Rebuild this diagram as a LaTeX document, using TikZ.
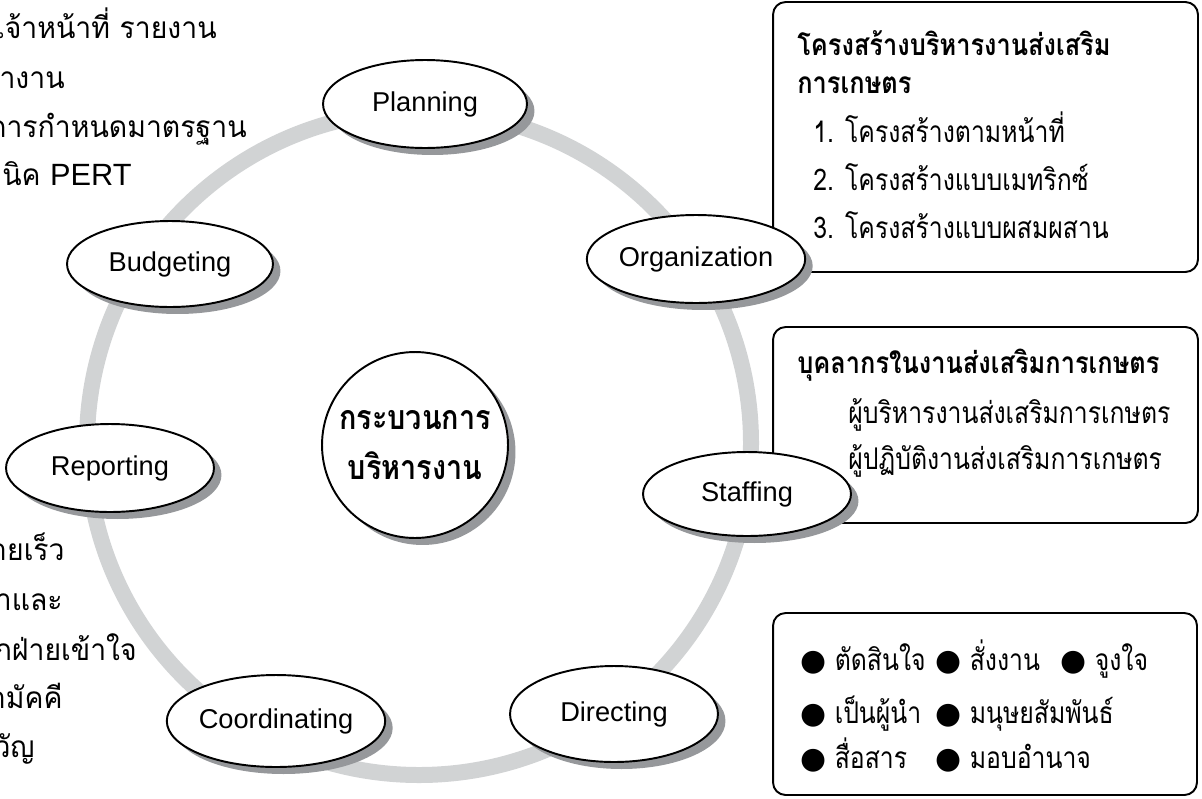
\documentclass[tikz,border=0pt]{standalone}
\usepackage{fontspec}
\setmainfont{Liberation Sans}
\newfontfamily\thaifont[Script=Thai, FakeStretch=0.83]{Loma}
\newfontfamily\thaibold[Script=Thai, FakeStretch=0.85]{Loma}
\newfontfamily\sidefont[Script=Thai, FakeStretch=0.95]{Loma}
\newfontfamily\symfont{DejaVu Sans}
\usetikzlibrary{shapes.geometric,shadows}

\definecolor{ringgray}{RGB}{209,211,212}
\definecolor{shadegray}{RGB}{150,152,155}

\tikzset{
  stage/.style={ellipse, draw, line width=1.1pt, fill=white, inner sep=0pt,
    font=\fontsize{15.5}{18}\selectfont,
    drop shadow={shadow xshift=0.15cm, shadow yshift=-0.14cm, fill=shadegray, opacity=1}},
  infobox/.style={draw, line width=1.1pt, rounded corners=0.25cm, fill=white},
  thaitext/.style={anchor=base west, inner sep=0pt, font=\thaifont\fontsize{17}{20}\selectfont},
  thaihead/.style={anchor=base west, inner sep=0pt, font=\thaibold\bfseries\fontsize{17}{20}\selectfont},
  sidetext/.style={anchor=base east, inner sep=0pt, font=\sidefont\fontsize{17}{20}\selectfont},
}

\begin{document}
\begin{tikzpicture}[x=0.02cm, y=-0.02cm]
\useasboundingbox (0,0) rectangle (1202,798);
\clip (0,0) rectangle (1202,798);

% boxes on the right
\node[infobox, minimum width=8.5cm, minimum height=5.4cm] (orgbox) at (985.5,137) {};
\node[infobox, minimum width=8.5cm, minimum height=3.92cm] (staffbox) at (985.5,425) {};
\node[infobox, minimum width=8.48cm, minimum height=3.64cm] (dirbox) at (985,704) {};

% structure box
\node[thaihead] (orghead) at (797,55) {โครงสร้างบริหารงานส่งเสริม};
\node[thaihead] (orghead2) at (797,93) {การเกษตร};
\node[thaitext] (org1) at (813,142) {1. โครงสร้างตามหน้าที่};
\node[thaitext] (org2) at (813,190) {2. โครงสร้างแบบเมทริกซ์};
\node[thaitext] (org3) at (813,238) {3. โครงสร้างแบบผสมผสาน};

% staff box
\node[thaihead] (staffhead) at (797,373) {บุคลากรในงานส่งเสริมการเกษตร};
\node[thaitext] (staff1) at (848,423) {ผู้บริหารงานส่งเสริมการเกษตร};
\node[thaitext] (staff2) at (848,469) {ผู้ปฏิบัติงานส่งเสริมการเกษตร};

% directing box
\node[thaitext] (d1) at (800,670) {{\symfont ●} ตัดสินใจ};
\node[thaitext] (d2) at (935,670) {{\symfont ●} สั่งงาน};
\node[thaitext] (d3) at (1060,670) {{\symfont ●} จูงใจ};
\node[thaitext] (d4) at (800,723) {{\symfont ●} เป็นผู้นำ};
\node[thaitext] (d5) at (935,723) {{\symfont ●} มนุษยสัมพันธ์};
\node[thaitext] (d6) at (800,768) {{\symfont ●} สื่อสาร};
\node[thaitext] (d7) at (935,768) {{\symfont ●} มอบอำนาจ};

% text on the left
\node[sidetext] (l1) at (217,38) {เจ้าหน้าที่ รายงาน};
\node[sidetext] (l2) at (65,88) {หางาน};
\node[sidetext] (l3) at (247,137) {การกำหนดมาตรฐาน};
\node[sidetext] (l4) at (132,185) {เทคนิค {\fontsize{17.5}{20}\selectfont\fontspec{Liberation Sans}PERT}};
\node[sidetext] (l5) at (65,560) {ง่ายเร็ว};
\node[sidetext] (l6) at (63,610) {เวลาและ};
\node[sidetext] (l7) at (137,660) {ทุกฝ่ายเข้าใจ};
\node[sidetext] (l8) at (63,708) {สามัคคี};
\node[sidetext] (l9) at (35,757) {ขวัญ};

% ring
\draw[ringgray, line width=0.32cm] (419,443) circle [radius=332];

% centre
\node[circle, draw, line width=1.1pt, fill=white, minimum size=3.72cm, align=center,
  font=\thaibold\bfseries\fontsize{19.3}{28.5}\selectfont,
  drop shadow={shadow xshift=0.15cm, shadow yshift=-0.14cm, fill=shadegray, opacity=1}]
  (proc) at (415,445) {กระบวนการ\\บริหารงาน};

% stages
\node[stage, minimum width=4.08cm, minimum height=1.76cm] (plan) at (425,104) {Planning};
\node[stage, minimum width=4.2cm, minimum height=1.76cm] (org) at (696,259) {Organization};
\node[stage, minimum width=4.16cm, minimum height=1.68cm] (staff) at (747,494) {Staffing};
\node[stage, minimum width=4.16cm, minimum height=1.92cm] (direct) at (614,714) {Directing};
\node[stage, minimum width=4.12cm, minimum height=1.84cm] (coord) at (276,721) {Coordinating};
\node[stage, minimum width=4.16cm, minimum height=1.76cm] (report) at (110,468) {Reporting};
\node[stage, minimum width=4.12cm, minimum height=1.72cm] (budget) at (170,264) {Budgeting};
\end{tikzpicture}
\end{document}
